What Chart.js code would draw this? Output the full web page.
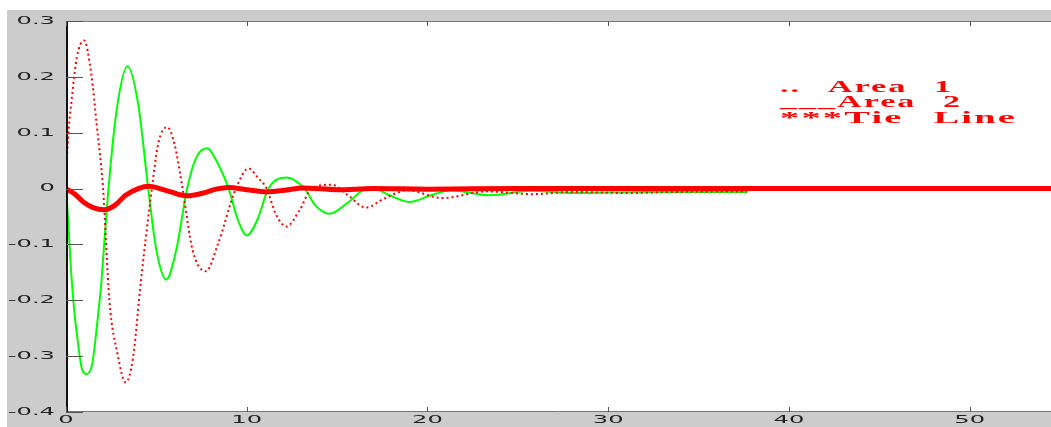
<!DOCTYPE html>
<html>
<head>
<meta charset="UTF-8">
<title>Area 1 / Area 2 / Tie Line</title>
<script src="https://cdn.jsdelivr.net/npm/chart.js"></script>
<style>
  html, body { margin: 0; padding: 0; background: #fff; }
  #wrap { width: 1051px; height: 427px; position: relative; }
</style>
</head>
<body>
<div id="wrap"><canvas id="chart"></canvas></div>
<script>
// values (time, deviation)
const area1T = [0, 0.08, 0.35, 0.6, 1.0, 1.4, 1.7, 2.05, 2.4, 2.85, 3.3, 3.7, 4.15, 4.75, 5.1, 5.6, 6.0, 6.45, 7.0, 7.75, 8.4, 9.4, 10.1, 10.6, 11.1, 11.6, 12.2, 12.9, 13.6, 14.7, 15.6, 16.6, 17.6, 18.9, 20.8, 23.3, 25.8, 28, 31, 34, 37.7];
const area1V = [0, 0.07, 0.17, 0.235, 0.265, 0.205, 0.114, 0, -0.2, -0.296, -0.347, -0.305, -0.164, 0, 0.08, 0.11, 0.08, 0, -0.11, -0.148, -0.1, 0, 0.036, 0.02, 0, -0.045, -0.068, -0.04, 0, 0.007, -0.012, -0.034, -0.018, -0.003, -0.017, -0.005, -0.01, -0.006, -0.008, -0.006, -0.005];

const area2T = [0, 0.05, 0.28, 0.44, 0.6, 0.9, 1.15, 1.45, 1.7, 1.95, 2.1, 2.35, 2.8, 3.4, 4.0, 4.55, 5.0, 5.55, 6.1, 6.7, 7.2, 7.8, 8.4, 9.0, 9.5, 10.0, 10.6, 11.2, 12.2, 13.2, 13.8, 14.6, 15.6, 16.8, 17.9, 19.0, 20.2, 21.3, 23.4, 25.8, 28, 32, 37.7];
const area2V = [0, -0.02, -0.147, -0.213, -0.26, -0.325, -0.332, -0.314, -0.249, -0.17, -0.105, 0, 0.14, 0.219, 0.15, 0, -0.11, -0.163, -0.11, 0, 0.055, 0.072, 0.045, 0, -0.055, -0.084, -0.055, 0, 0.02, 0, -0.03, -0.045, -0.025, 0.003, -0.012, -0.024, -0.012, -0.003, -0.012, -0.004, -0.008, -0.006, -0.006];

const tieT = [0, 0.5, 1.0, 1.5, 2.1, 2.7, 3.3, 4.0, 4.6, 5.2, 5.8, 6.7, 7.6, 8.3, 9.0, 10.0, 11.1, 12.1, 13.1, 15, 17, 20, 25, 54.5];
const tieV = [0, -0.01, -0.025, -0.034, -0.038, -0.03, -0.012, 0, 0.004, 0, -0.006, -0.013, -0.008, -0.001, 0.002, -0.002, -0.006, -0.003, 0.001, -0.002, 0, -0.001, 0, 0];

const xTicks = [0, 10, 20, 30, 40, 50];
const yTicks = [0.3, 0.2, 0.1, 0, -0.1, -0.2, -0.3, -0.4];
const legendLines = ['.. Area 1', '___Area 2', '***Tie Line'];

function pts(t, v) {
  return t.map((x, i) => ({ x: x, y: v[i] }));
}

// grey frame, inside ticks, stretched labels and the typed legend
const frame = {
  id: 'frame',
  beforeDraw(chart) {
    const { ctx, width, height, chartArea: a } = chart;
    ctx.save();
    ctx.fillStyle = '#fff';
    ctx.fillRect(0, 0, width, height);
    ctx.fillStyle = '#cccccc';
    ctx.fillRect(7, 10, width - 7, height - 10);
    ctx.fillStyle = '#fff';
    ctx.fillRect(a.left, a.top, a.right - a.left, a.bottom - a.top);
    ctx.restore();
  },
  afterDraw(chart) {
    const { ctx, chartArea: a } = chart;
    const x = chart.scales.x, y = chart.scales.y;
    ctx.save();

    // border
    ctx.strokeStyle = '#777';
    ctx.lineWidth = 1;
    ctx.beginPath();
    ctx.moveTo(a.left, a.top + 0.5); ctx.lineTo(a.right, a.top + 0.5);
    ctx.moveTo(a.left, a.bottom - 0.5); ctx.lineTo(a.right, a.bottom - 0.5);
    ctx.stroke();
    ctx.strokeStyle = '#111';
    ctx.lineWidth = 2;
    ctx.beginPath();
    ctx.moveTo(a.left + 1, a.top); ctx.lineTo(a.left + 1, a.bottom);
    ctx.stroke();

    // ticks
    ctx.strokeStyle = '#555';
    ctx.lineWidth = 1;
    ctx.beginPath();
    yTicks.forEach(v => {
      const py = Math.round(y.getPixelForValue(v)) + 0.5;
      ctx.moveTo(a.left, py); ctx.lineTo(a.left + 17, py);
    });
    xTicks.forEach(v => {
      const px = Math.round(x.getPixelForValue(v)) + 0.5;
      ctx.moveTo(px, a.bottom); ctx.lineTo(px, a.bottom - 5);
      ctx.moveTo(px, a.top); ctx.lineTo(px, a.top + 5);
    });
    ctx.stroke();

    // tick labels (wide, like the original)
    ctx.fillStyle = '#222';
    ctx.font = '11px "DejaVu Sans"';
    ctx.textBaseline = 'middle';
    yTicks.forEach(v => {
      const s = v === 0 ? '0' : v.toFixed(1);
      ctx.save();
      ctx.translate(a.left - 11, y.getPixelForValue(v));
      ctx.scale(2.2, 1);
      ctx.textAlign = 'right';
      ctx.fillText(s, 0, 0);
      ctx.restore();
    });
    xTicks.forEach(v => {
      ctx.save();
      ctx.translate(x.getPixelForValue(v), a.bottom + 8);
      ctx.scale(2.2, 1);
      ctx.textAlign = 'center';
      ctx.fillText(String(v), 0, 0);
      ctx.restore();
    });

    // legend text
    const base = [92, 107, 123];
    const widths = [173, 182, 237];
    ctx.fillStyle = '#ff0000';
    ctx.font = 'bold 17px "Liberation Serif"';
    ctx.textBaseline = 'alphabetic';
    ctx.textAlign = 'left';
    legendLines.forEach((s, i) => {
      ctx.save();
      ctx.letterSpacing = '1px';
      ctx.wordSpacing = '8px';
      const w = ctx.measureText(s).width;
      ctx.translate(780, base[i]);
      ctx.scale(widths[i] / w, 1);
      ctx.fillText(s, 0, 0);
      ctx.restore();
    });

    ctx.restore();
  }
};

new Chart(document.getElementById('chart'), {
  type: 'line',
  data: {
    datasets: [
      { label: 'Tie Line', data: pts(tieT, tieV), borderColor: '#ff0000', borderWidth: 5, cubicInterpolationMode: 'monotone' },
      { label: 'Area 1', data: pts(area1T, area1V), borderColor: '#ff0000', borderWidth: 2, borderDash: [2, 3], cubicInterpolationMode: 'monotone' },
      { label: 'Area 2', data: pts(area2T, area2V), borderColor: '#00ff00', borderWidth: 2, cubicInterpolationMode: 'monotone' }
    ]
  },
  options: {
    responsive: true,
    maintainAspectRatio: false,
    devicePixelRatio: 1,
    animation: false,
    layout: { padding: { left: 66, top: 21, right: 0, bottom: 15 } },
    elements: { point: { radius: 0 } },
    plugins: { legend: { display: false }, tooltip: { enabled: false } },
    scales: {
      x: { type: 'linear', min: 0, max: 54.5, display: false },
      y: { type: 'linear', min: -0.4, max: 0.3, display: false }
    }
  },
  plugins: [frame]
});
</script>
</body>
</html>
